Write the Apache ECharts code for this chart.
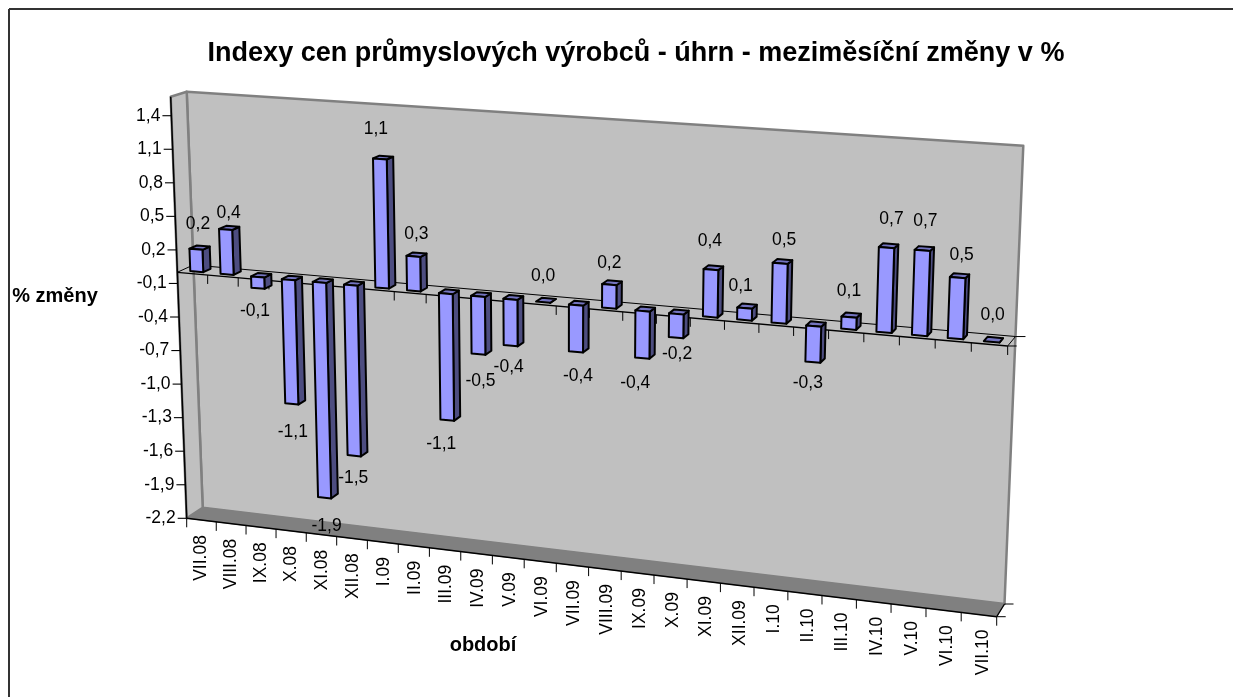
<!DOCTYPE html>
<html>
<head>
<meta charset="utf-8">
<title>Indexy cen průmyslových výrobců</title>
<style>html, body { margin: 0; padding: 0; background: #fff; } #main { width: 1233px; height: 697px; }</style>
<script src="https://cdn.jsdelivr.net/npm/echarts@6/dist/echarts.min.js"></script>
</head>
<body>
<div id="main"></div>
<script>
// data
var categories = ['VII.08', 'VIII.08', 'IX.08', 'X.08', 'XI.08', 'XII.08', 'I.09', 'II.09', 'III.09', 'IV.09', 'V.09', 'VI.09',
    'VII.09', 'VIII.09', 'IX.09', 'X.09', 'XI.09', 'XII.09', 'I.10', 'II.10', 'III.10', 'IV.10', 'V.10', 'VI.10', 'VII.10'];
var changes = [0.2, 0.4, -0.1, -1.1, -1.9, -1.5, 1.13, 0.3, -1.1, -0.5, -0.4, 0.0, -0.4, 0.2, -0.4, -0.2, 0.4, 0.1, 0.5, -0.3, 0.1, 0.7, 0.7, 0.5, 0.0];
var yTicks = [1.4, 1.1, 0.8, 0.5, 0.2, -0.1, -0.4, -0.7, -1.0, -1.3, -1.6, -1.9, -2.2];

var FONT = '"Liberation Sans", Arial, sans-serif';
var LABEL_SIZE = 17.5;
var yMin = -2.2, yMax = 1.57;
var GRID = { left: 170, top: 92, width: 850, height: 525 };

// corners of the 3D box on screen, front plane and back wall
var FRONT = { tl: [170.7, 96.7], tr: [1015.5, 152.8], bl: [186.7, 518.3], br: [996.7, 616.7] };
var BACK = { tl: [186.7, 91.7], tr: [1023.3, 145.7], bl: [202.7, 507.7], br: [1004.5, 604] };
var PERSP = 1.1;      // categories get wider towards the right
var BAR_FRONT = 0.27, BAR_BACK = 0.73, BAR_WIDTH = 0.43;

// labels Excel moved away from the plain spot: index -> [dx, dy]
var labelNudge = {
    0: [0, 1], 1: [1, 10], 2: [-5, -1], 3: [-1, 4], 4: [0, 4], 5: [-3, -2], 6: [-6, -4], 7: [1, 4], 8: [-8, 0],
    9: [0, 3], 10: [-4, -3], 11: [-2, 0], 13: [-2, 5], 14: [-9, 1], 15: [-1, -7], 16: [-3, -2], 17: [-6, 4],
    18: [2, 3], 19: [-7, -3], 20: [-2, 0], 21: [3, -2], 22: [1, -3], 23: [2, 3], 24: [-1, -1]
};

function lerp(a, b, k) { return [a[0] + (b[0] - a[0]) * k, a[1] + (b[1] - a[1]) * k]; }
function planePoint(p, s, t) { return lerp(lerp(p.tl, p.tr, s), lerp(p.bl, p.br, s), t); }
// grid pixel from the axes + depth -> screen pixel
function project(px, depth) {
    var u = (px[0] - GRID.left) / GRID.width;
    var t = (px[1] - GRID.top) / GRID.height;
    var s = u / (u + PERSP * (1 - u));
    return lerp(planePoint(FRONT, s, t), planePoint(BACK, s, t), depth);
}
function line(a, b, color, width) {
    return { type: 'line', shape: { x1: a[0], y1: a[1], x2: b[0], y2: b[1] }, style: { stroke: color, lineWidth: width } };
}
function poly(points, fill, stroke, width) {
    return { type: 'polygon', shape: { points: points }, style: { fill: fill, stroke: stroke, lineWidth: width || 0, lineJoin: 'round' } };
}
function text(str, x, y, align, size, bold) {
    return { type: 'text', style: { text: str, x: x, y: y, align: align || 'center', verticalAlign: 'middle', fill: '#000', font: (bold ? 'bold ' : '') + (size || LABEL_SIZE) + 'px ' + FONT } };
}
function fmt(v) { return v.toFixed(1).replace('.', ','); }

function renderBox(params, api) {
    var n = categories.length;
    var left = GRID.left, right = GRID.left + GRID.width;
    var zeroY = api.coord([0, 0])[1], bottomY = GRID.top + GRID.height;
    var c = [];
    // walls and floor
    c.push(poly([BACK.tl, BACK.tr, BACK.br, BACK.bl], '#c0c0c0', '#808080', 2.5));
    c.push(poly([FRONT.tl, BACK.tl, BACK.bl, FRONT.bl], '#c0c0c0', '#808080', 2.5));
    c.push(poly([FRONT.bl, FRONT.br, BACK.br, BACK.bl], '#808080', '#808080', 1));
    c.push(line(FRONT.tl, FRONT.bl, '#000', 1.5));
    c.push(line(FRONT.bl, FRONT.br, '#000', 1.5));
    c.push(line(FRONT.br, BACK.br, '#000', 1.3));
    c.push(line(BACK.br, [BACK.br[0] + 9, BACK.br[1]], '#000', 1));
    c.push(line(FRONT.br, [FRONT.br[0] + 9, FRONT.br[1]], '#000', 1));
    // category axis runs along the zero plane
    var z0 = project([left, zeroY], 0), z1 = project([right, zeroY], 0);
    var zb0 = project([left, zeroY], 1), zb1 = project([right, zeroY], 1);
    c.push(line(z0, z1, '#000', 1.3));
    c.push(line(zb0, zb1, '#000', 1.1));
    c.push(line(z0, zb0, '#000', 1));
    c.push(line(z1, zb1, '#000', 1));
    c.push(line(zb1, [zb1[0] + 10, zb1[1]], '#000', 1));
    c.push(line(z1, [z1[0] + 9, z1[1]], '#000', 1));
    // ticks at the category boundaries
    for (var i = 0; i <= n; i++) {
        var x = left + GRID.width * i / n;
        var a = project([x, zeroY], 0), b = project([x, bottomY], 0);
        if (i > 0) c.push(line(a, [a[0], a[1] + 9], '#000', 1));
        c.push(line(b, [b[0], b[1] + 9], '#000', 1));
    }
    return { type: 'group', children: c };
}

function renderYTick(params, api) {
    var v = api.value(1);
    // snap to the axis line, api.coord alone gives the category centre
    var p = project([GRID.left, api.coord([0, v])[1]], 0);
    return { type: 'group', children: [
        line([p[0] - 9, p[1]], p, '#000', 1.1),
        text(fmt(v), p[0] - 11, p[1], 'right')
    ] };
}

function renderXLabel(params, api) {
    var px = api.coord([api.value(0), yMin]);
    var p = project(px, 0);
    var t = text(categories[params.dataIndex], 0, 0, 'right');
    t.x = p[0] + 4 * params.dataIndex / categories.length;
    t.y = p[1] + 15;
    t.rotation = Math.PI / 2;
    return t;
}

function renderBar(params, api) {
    var i = api.value(0), v = api.value(1);
    var base = api.coord([i, 0]), tip = api.coord([i, v]);
    var half = api.size([1, 0])[0] * BAR_WIDTH / 2;
    var yTop = Math.min(base[1], tip[1]), yBot = Math.max(base[1], tip[1]);
    function pt(side, y, d) { return project([base[0] + side * half, y], d); }
    var c = [];
    var stroke = '#000';
    // side, top, front
    c.push(poly([pt(1, yTop, BAR_FRONT), pt(1, yTop, BAR_BACK), pt(1, yBot, BAR_BACK), pt(1, yBot, BAR_FRONT)], '#4d4d80', stroke, 2));
    c.push(poly([pt(-1, yTop, BAR_FRONT), pt(-1, yTop, BAR_BACK), pt(1, yTop, BAR_BACK), pt(1, yTop, BAR_FRONT)], '#7373bf', stroke, 2));
    if (yBot - yTop > 0.5) {
        c.push(poly([pt(-1, yTop, BAR_FRONT), pt(1, yTop, BAR_FRONT), pt(1, yBot, BAR_FRONT), pt(-1, yBot, BAR_FRONT)], '#9999ff', stroke, 2));
    }
    var anchor = project(tip, BAR_FRONT);
    var nudge = labelNudge[params.dataIndex] || [0, 0];
    var dy = v < 0 ? 24 : -26;
    c.push(text(fmt(v), anchor[0] + 2 + nudge[0], anchor[1] + dy + nudge[1], 'center'));
    return { type: 'group', children: c };
}

var myChart = echarts.init(document.getElementById('main'));
var option = {
    animation: false,
    backgroundColor: '#fff',
    title: {
        text: 'Indexy cen průmyslových výrobců - úhrn - meziměsíční změny v %',
        left: 631,
        top: 35,
        textAlign: 'center',
        textStyle: { fontFamily: FONT, fontSize: 27, fontWeight: 'bold', color: '#000' }
    },
    grid: { left: GRID.left, top: GRID.top, width: GRID.width, height: GRID.height },
    xAxis: { type: 'category', data: categories, show: false },
    yAxis: { type: 'value', min: yMin, max: yMax, show: false },
    graphic: [
        { type: 'line', shape: { x1: 9, y1: 9, x2: 1233, y2: 9 }, style: { stroke: '#333', lineWidth: 2 } },
        { type: 'line', shape: { x1: 9, y1: 9, x2: 9, y2: 697 }, style: { stroke: '#333', lineWidth: 2 } },
        { type: 'text', x: 55, y: 296, style: { text: '% změny', align: 'center', verticalAlign: 'middle', fill: '#000', font: 'bold 20px ' + FONT } },
        { type: 'text', x: 483, y: 645, style: { text: 'období', align: 'center', verticalAlign: 'middle', fill: '#000', font: 'bold 20px ' + FONT } }
    ],
    series: [
        { name: 'box', type: 'custom', z: 1, clip: false, silent: true, renderItem: renderBox, data: [[0, 0]] },
        { name: 'yticks', type: 'custom', z: 2, clip: false, silent: true, renderItem: renderYTick, data: yTicks.map(function (v) { return [0, v]; }) },
        { name: 'xlabels', type: 'custom', z: 2, clip: false, silent: true, renderItem: renderXLabel, data: categories.map(function (c, i) { return [i, yMin]; }) },
        { name: 'změna', type: 'custom', z: 3, clip: false, renderItem: renderBar, data: changes.map(function (v, i) { return [i, v]; }) }
    ]
};
myChart.setOption(option);
</script>
</body>
</html>
